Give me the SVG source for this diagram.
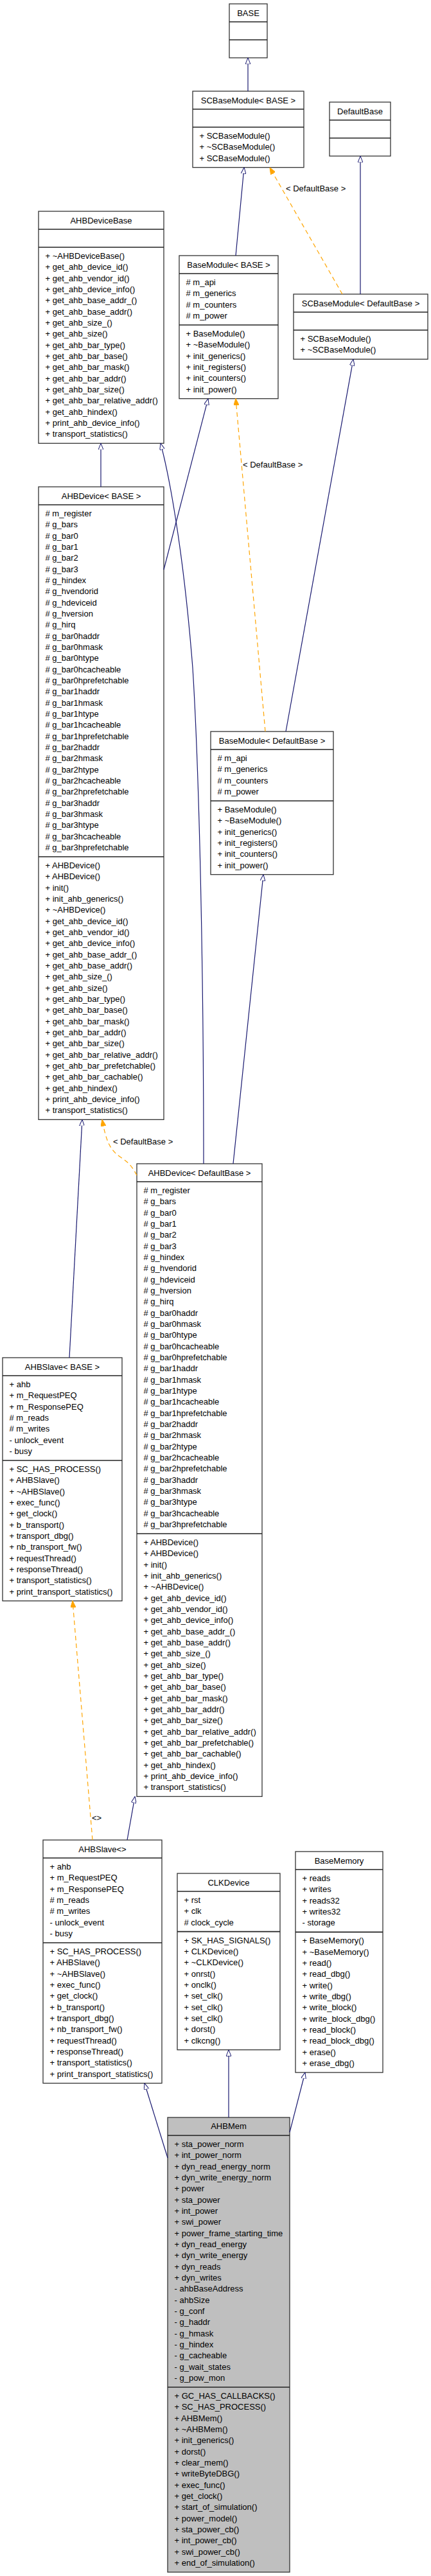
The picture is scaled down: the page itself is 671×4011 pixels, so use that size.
<svg xmlns="http://www.w3.org/2000/svg" width="671" height="4011" viewBox="0 0 671 4011">
<style>
.box{fill:#fff;stroke:#333;stroke-width:1.3}
.mem{fill:#bfbfbf;stroke:#333;stroke-width:1.3}
.sep{stroke:#222;stroke-width:1.7}
.t{font-family:"Liberation Sans",Arial,sans-serif;font-size:13px;fill:#000}
.ti{text-anchor:middle}
.inh{fill:none;stroke:#191970;stroke-width:1.2;marker-end:url(#hollow)}
.tpl{fill:none;stroke:#ffa500;stroke-width:1.2;stroke-dasharray:7,5;marker-end:url(#filled)}
</style>
<defs>
<marker id="hollow" viewBox="0 0 10 8" refX="10" refY="4" markerWidth="10" markerHeight="8" markerUnits="userSpaceOnUse" orient="auto">
<path d="M0,0 L10,4 L0,8 Z" fill="#fff" stroke="#191970" stroke-width="1"/>
</marker>
<marker id="filled" viewBox="0 0 10 8" refX="10" refY="4" markerWidth="11" markerHeight="8" markerUnits="userSpaceOnUse" orient="auto">
<path d="M0,0 L10,4 L0,8 Z" fill="#ffa500" stroke="#ffa500" stroke-width="1"/>
</marker>
</defs>
<rect width="671" height="4011" fill="#fff"/>

<g id="BASE">
<rect class="box" x="357" y="6" width="59" height="84"/>
<line class="sep" x1="357" y1="34" x2="416" y2="34"/>
<line class="sep" x1="357" y1="62" x2="416" y2="62"/>
<text class="t ti" x="386.5" y="25">BASE</text>
</g>

<g id="SCBaseModule_BASE">
<rect class="box" x="300" y="142" width="173" height="118.7"/>
<line class="sep" x1="300" y1="170" x2="473" y2="170"/>
<line class="sep" x1="300" y1="198" x2="473" y2="198"/>
<text class="t ti" x="386.5" y="161">SCBaseModule&lt; BASE &gt;</text>
<text class="t"><tspan x="310.5" y="216">+ SCBaseModule()</tspan><tspan x="310.5" dy="17.333">+ ~SCBaseModule()</tspan><tspan x="310.5" dy="17.333">+ SCBaseModule()</tspan></text>
</g>

<g id="DefaultBase">
<rect class="box" x="513" y="159" width="95" height="84"/>
<line class="sep" x1="513" y1="187" x2="608" y2="187"/>
<line class="sep" x1="513" y1="215" x2="608" y2="215"/>
<text class="t ti" x="560.5" y="178">DefaultBase</text>
</g>

<g id="AHBDeviceBase">
<rect class="box" x="60" y="329" width="195" height="361.3"/>
<line class="sep" x1="60" y1="357" x2="255" y2="357"/>
<line class="sep" x1="60" y1="385" x2="255" y2="385"/>
<text class="t ti" x="157.5" y="348">AHBDeviceBase</text>
<text class="t"><tspan x="70.5" y="403">+ ~AHBDeviceBase()</tspan><tspan x="70.5" dy="17.333">+ get_ahb_device_id()</tspan><tspan x="70.5" dy="17.333">+ get_ahb_vendor_id()</tspan><tspan x="70.5" dy="17.333">+ get_ahb_device_info()</tspan><tspan x="70.5" dy="17.333">+ get_ahb_base_addr_()</tspan><tspan x="70.5" dy="17.333">+ get_ahb_base_addr()</tspan><tspan x="70.5" dy="17.333">+ get_ahb_size_()</tspan><tspan x="70.5" dy="17.333">+ get_ahb_size()</tspan><tspan x="70.5" dy="17.333">+ get_ahb_bar_type()</tspan><tspan x="70.5" dy="17.333">+ get_ahb_bar_base()</tspan><tspan x="70.5" dy="17.333">+ get_ahb_bar_mask()</tspan><tspan x="70.5" dy="17.333">+ get_ahb_bar_addr()</tspan><tspan x="70.5" dy="17.333">+ get_ahb_bar_size()</tspan><tspan x="70.5" dy="17.333">+ get_ahb_bar_relative_addr()</tspan><tspan x="70.5" dy="17.333">+ get_ahb_hindex()</tspan><tspan x="70.5" dy="17.333">+ print_ahb_device_info()</tspan><tspan x="70.5" dy="17.333">+ transport_statistics()</tspan></text>
</g>

<g id="BaseModule_BASE">
<rect class="box" x="279" y="398" width="154" height="222.7"/>
<line class="sep" x1="279" y1="426" x2="433" y2="426"/>
<line class="sep" x1="279" y1="506" x2="433" y2="506"/>
<text class="t ti" x="356" y="417">BaseModule&lt; BASE &gt;</text>
<text class="t"><tspan x="289.5" y="444"># m_api</tspan><tspan x="289.5" dy="17.333"># m_generics</tspan><tspan x="289.5" dy="17.333"># m_counters</tspan><tspan x="289.5" dy="17.333"># m_power</tspan></text>
<text class="t"><tspan x="289.5" y="524">+ BaseModule()</tspan><tspan x="289.5" dy="17.333">+ ~BaseModule()</tspan><tspan x="289.5" dy="17.333">+ init_generics()</tspan><tspan x="289.5" dy="17.333">+ init_registers()</tspan><tspan x="289.5" dy="17.333">+ init_counters()</tspan><tspan x="289.5" dy="17.333">+ init_power()</tspan></text>
</g>

<g id="SCBaseModule_DefaultBase">
<rect class="box" x="457" y="458" width="209" height="101.3"/>
<line class="sep" x1="457" y1="486" x2="666" y2="486"/>
<line class="sep" x1="457" y1="514" x2="666" y2="514"/>
<text class="t ti" x="561.5" y="477">SCBaseModule&lt; DefaultBase &gt;</text>
<text class="t"><tspan x="467.5" y="532">+ SCBaseModule()</tspan><tspan x="467.5" dy="17.333">+ ~SCBaseModule()</tspan></text>
</g>

<g id="AHBDevice_BASE">
<rect class="box" x="60" y="758" width="195" height="985.3"/>
<line class="sep" x1="60" y1="786" x2="255" y2="786"/>
<line class="sep" x1="60" y1="1334" x2="255" y2="1334"/>
<text class="t ti" x="157.5" y="777">AHBDevice&lt; BASE &gt;</text>
<text class="t"><tspan x="70.5" y="804"># m_register</tspan><tspan x="70.5" dy="17.333"># g_bars</tspan><tspan x="70.5" dy="17.333"># g_bar0</tspan><tspan x="70.5" dy="17.333"># g_bar1</tspan><tspan x="70.5" dy="17.333"># g_bar2</tspan><tspan x="70.5" dy="17.333"># g_bar3</tspan><tspan x="70.5" dy="17.333"># g_hindex</tspan><tspan x="70.5" dy="17.333"># g_hvendorid</tspan><tspan x="70.5" dy="17.333"># g_hdeviceid</tspan><tspan x="70.5" dy="17.333"># g_hversion</tspan><tspan x="70.5" dy="17.333"># g_hirq</tspan><tspan x="70.5" dy="17.333"># g_bar0haddr</tspan><tspan x="70.5" dy="17.333"># g_bar0hmask</tspan><tspan x="70.5" dy="17.333"># g_bar0htype</tspan><tspan x="70.5" dy="17.333"># g_bar0hcacheable</tspan><tspan x="70.5" dy="17.333"># g_bar0hprefetchable</tspan><tspan x="70.5" dy="17.333"># g_bar1haddr</tspan><tspan x="70.5" dy="17.333"># g_bar1hmask</tspan><tspan x="70.5" dy="17.333"># g_bar1htype</tspan><tspan x="70.5" dy="17.333"># g_bar1hcacheable</tspan><tspan x="70.5" dy="17.333"># g_bar1hprefetchable</tspan><tspan x="70.5" dy="17.333"># g_bar2haddr</tspan><tspan x="70.5" dy="17.333"># g_bar2hmask</tspan><tspan x="70.5" dy="17.333"># g_bar2htype</tspan><tspan x="70.5" dy="17.333"># g_bar2hcacheable</tspan><tspan x="70.5" dy="17.333"># g_bar2hprefetchable</tspan><tspan x="70.5" dy="17.333"># g_bar3haddr</tspan><tspan x="70.5" dy="17.333"># g_bar3hmask</tspan><tspan x="70.5" dy="17.333"># g_bar3htype</tspan><tspan x="70.5" dy="17.333"># g_bar3hcacheable</tspan><tspan x="70.5" dy="17.333"># g_bar3hprefetchable</tspan></text>
<text class="t"><tspan x="70.5" y="1352">+ AHBDevice()</tspan><tspan x="70.5" dy="17.333">+ AHBDevice()</tspan><tspan x="70.5" dy="17.333">+ init()</tspan><tspan x="70.5" dy="17.333">+ init_ahb_generics()</tspan><tspan x="70.5" dy="17.333">+ ~AHBDevice()</tspan><tspan x="70.5" dy="17.333">+ get_ahb_device_id()</tspan><tspan x="70.5" dy="17.333">+ get_ahb_vendor_id()</tspan><tspan x="70.5" dy="17.333">+ get_ahb_device_info()</tspan><tspan x="70.5" dy="17.333">+ get_ahb_base_addr_()</tspan><tspan x="70.5" dy="17.333">+ get_ahb_base_addr()</tspan><tspan x="70.5" dy="17.333">+ get_ahb_size_()</tspan><tspan x="70.5" dy="17.333">+ get_ahb_size()</tspan><tspan x="70.5" dy="17.333">+ get_ahb_bar_type()</tspan><tspan x="70.5" dy="17.333">+ get_ahb_bar_base()</tspan><tspan x="70.5" dy="17.333">+ get_ahb_bar_mask()</tspan><tspan x="70.5" dy="17.333">+ get_ahb_bar_addr()</tspan><tspan x="70.5" dy="17.333">+ get_ahb_bar_size()</tspan><tspan x="70.5" dy="17.333">+ get_ahb_bar_relative_addr()</tspan><tspan x="70.5" dy="17.333">+ get_ahb_bar_prefetchable()</tspan><tspan x="70.5" dy="17.333">+ get_ahb_bar_cachable()</tspan><tspan x="70.5" dy="17.333">+ get_ahb_hindex()</tspan><tspan x="70.5" dy="17.333">+ print_ahb_device_info()</tspan><tspan x="70.5" dy="17.333">+ transport_statistics()</tspan></text>
</g>

<g id="BaseModule_DefaultBase">
<rect class="box" x="328" y="1139" width="191" height="222.7"/>
<line class="sep" x1="328" y1="1167" x2="519" y2="1167"/>
<line class="sep" x1="328" y1="1247" x2="519" y2="1247"/>
<text class="t ti" x="423.5" y="1158">BaseModule&lt; DefaultBase &gt;</text>
<text class="t"><tspan x="338.5" y="1185"># m_api</tspan><tspan x="338.5" dy="17.333"># m_generics</tspan><tspan x="338.5" dy="17.333"># m_counters</tspan><tspan x="338.5" dy="17.333"># m_power</tspan></text>
<text class="t"><tspan x="338.5" y="1265">+ BaseModule()</tspan><tspan x="338.5" dy="17.333">+ ~BaseModule()</tspan><tspan x="338.5" dy="17.333">+ init_generics()</tspan><tspan x="338.5" dy="17.333">+ init_registers()</tspan><tspan x="338.5" dy="17.333">+ init_counters()</tspan><tspan x="338.5" dy="17.333">+ init_power()</tspan></text>
</g>

<g id="AHBDevice_DefaultBase">
<rect class="box" x="213" y="1812" width="195" height="985.3"/>
<line class="sep" x1="213" y1="1840" x2="408" y2="1840"/>
<line class="sep" x1="213" y1="2388" x2="408" y2="2388"/>
<text class="t ti" x="310.5" y="1831">AHBDevice&lt; DefaultBase &gt;</text>
<text class="t"><tspan x="223.5" y="1858"># m_register</tspan><tspan x="223.5" dy="17.333"># g_bars</tspan><tspan x="223.5" dy="17.333"># g_bar0</tspan><tspan x="223.5" dy="17.333"># g_bar1</tspan><tspan x="223.5" dy="17.333"># g_bar2</tspan><tspan x="223.5" dy="17.333"># g_bar3</tspan><tspan x="223.5" dy="17.333"># g_hindex</tspan><tspan x="223.5" dy="17.333"># g_hvendorid</tspan><tspan x="223.5" dy="17.333"># g_hdeviceid</tspan><tspan x="223.5" dy="17.333"># g_hversion</tspan><tspan x="223.5" dy="17.333"># g_hirq</tspan><tspan x="223.5" dy="17.333"># g_bar0haddr</tspan><tspan x="223.5" dy="17.333"># g_bar0hmask</tspan><tspan x="223.5" dy="17.333"># g_bar0htype</tspan><tspan x="223.5" dy="17.333"># g_bar0hcacheable</tspan><tspan x="223.5" dy="17.333"># g_bar0hprefetchable</tspan><tspan x="223.5" dy="17.333"># g_bar1haddr</tspan><tspan x="223.5" dy="17.333"># g_bar1hmask</tspan><tspan x="223.5" dy="17.333"># g_bar1htype</tspan><tspan x="223.5" dy="17.333"># g_bar1hcacheable</tspan><tspan x="223.5" dy="17.333"># g_bar1hprefetchable</tspan><tspan x="223.5" dy="17.333"># g_bar2haddr</tspan><tspan x="223.5" dy="17.333"># g_bar2hmask</tspan><tspan x="223.5" dy="17.333"># g_bar2htype</tspan><tspan x="223.5" dy="17.333"># g_bar2hcacheable</tspan><tspan x="223.5" dy="17.333"># g_bar2hprefetchable</tspan><tspan x="223.5" dy="17.333"># g_bar3haddr</tspan><tspan x="223.5" dy="17.333"># g_bar3hmask</tspan><tspan x="223.5" dy="17.333"># g_bar3htype</tspan><tspan x="223.5" dy="17.333"># g_bar3hcacheable</tspan><tspan x="223.5" dy="17.333"># g_bar3hprefetchable</tspan></text>
<text class="t"><tspan x="223.5" y="2406">+ AHBDevice()</tspan><tspan x="223.5" dy="17.333">+ AHBDevice()</tspan><tspan x="223.5" dy="17.333">+ init()</tspan><tspan x="223.5" dy="17.333">+ init_ahb_generics()</tspan><tspan x="223.5" dy="17.333">+ ~AHBDevice()</tspan><tspan x="223.5" dy="17.333">+ get_ahb_device_id()</tspan><tspan x="223.5" dy="17.333">+ get_ahb_vendor_id()</tspan><tspan x="223.5" dy="17.333">+ get_ahb_device_info()</tspan><tspan x="223.5" dy="17.333">+ get_ahb_base_addr_()</tspan><tspan x="223.5" dy="17.333">+ get_ahb_base_addr()</tspan><tspan x="223.5" dy="17.333">+ get_ahb_size_()</tspan><tspan x="223.5" dy="17.333">+ get_ahb_size()</tspan><tspan x="223.5" dy="17.333">+ get_ahb_bar_type()</tspan><tspan x="223.5" dy="17.333">+ get_ahb_bar_base()</tspan><tspan x="223.5" dy="17.333">+ get_ahb_bar_mask()</tspan><tspan x="223.5" dy="17.333">+ get_ahb_bar_addr()</tspan><tspan x="223.5" dy="17.333">+ get_ahb_bar_size()</tspan><tspan x="223.5" dy="17.333">+ get_ahb_bar_relative_addr()</tspan><tspan x="223.5" dy="17.333">+ get_ahb_bar_prefetchable()</tspan><tspan x="223.5" dy="17.333">+ get_ahb_bar_cachable()</tspan><tspan x="223.5" dy="17.333">+ get_ahb_hindex()</tspan><tspan x="223.5" dy="17.333">+ print_ahb_device_info()</tspan><tspan x="223.5" dy="17.333">+ transport_statistics()</tspan></text>
</g>

<g id="AHBSlave_BASE">
<rect class="box" x="4" y="2114" width="186" height="378.7"/>
<line class="sep" x1="4" y1="2142" x2="190" y2="2142"/>
<line class="sep" x1="4" y1="2274" x2="190" y2="2274"/>
<text class="t ti" x="97" y="2133">AHBSlave&lt; BASE &gt;</text>
<text class="t"><tspan x="14.5" y="2160">+ ahb</tspan><tspan x="14.5" dy="17.333">+ m_RequestPEQ</tspan><tspan x="14.5" dy="17.333">+ m_ResponsePEQ</tspan><tspan x="14.5" dy="17.333"># m_reads</tspan><tspan x="14.5" dy="17.333"># m_writes</tspan><tspan x="14.5" dy="17.333">- unlock_event</tspan><tspan x="14.5" dy="17.333">- busy</tspan></text>
<text class="t"><tspan x="14.5" y="2292">+ SC_HAS_PROCESS()</tspan><tspan x="14.5" dy="17.333">+ AHBSlave()</tspan><tspan x="14.5" dy="17.333">+ ~AHBSlave()</tspan><tspan x="14.5" dy="17.333">+ exec_func()</tspan><tspan x="14.5" dy="17.333">+ get_clock()</tspan><tspan x="14.5" dy="17.333">+ b_transport()</tspan><tspan x="14.5" dy="17.333">+ transport_dbg()</tspan><tspan x="14.5" dy="17.333">+ nb_transport_fw()</tspan><tspan x="14.5" dy="17.333">+ requestThread()</tspan><tspan x="14.5" dy="17.333">+ responseThread()</tspan><tspan x="14.5" dy="17.333">+ transport_statistics()</tspan><tspan x="14.5" dy="17.333">+ print_transport_statistics()</tspan></text>
</g>

<g id="AHBSlave_default">
<rect class="box" x="67" y="2865" width="185" height="378.7"/>
<line class="sep" x1="67" y1="2893" x2="252" y2="2893"/>
<line class="sep" x1="67" y1="3025" x2="252" y2="3025"/>
<text class="t ti" x="159.5" y="2884">AHBSlave&lt;&gt;</text>
<text class="t"><tspan x="77.5" y="2911">+ ahb</tspan><tspan x="77.5" dy="17.333">+ m_RequestPEQ</tspan><tspan x="77.5" dy="17.333">+ m_ResponsePEQ</tspan><tspan x="77.5" dy="17.333"># m_reads</tspan><tspan x="77.5" dy="17.333"># m_writes</tspan><tspan x="77.5" dy="17.333">- unlock_event</tspan><tspan x="77.5" dy="17.333">- busy</tspan></text>
<text class="t"><tspan x="77.5" y="3043">+ SC_HAS_PROCESS()</tspan><tspan x="77.5" dy="17.333">+ AHBSlave()</tspan><tspan x="77.5" dy="17.333">+ ~AHBSlave()</tspan><tspan x="77.5" dy="17.333">+ exec_func()</tspan><tspan x="77.5" dy="17.333">+ get_clock()</tspan><tspan x="77.5" dy="17.333">+ b_transport()</tspan><tspan x="77.5" dy="17.333">+ transport_dbg()</tspan><tspan x="77.5" dy="17.333">+ nb_transport_fw()</tspan><tspan x="77.5" dy="17.333">+ requestThread()</tspan><tspan x="77.5" dy="17.333">+ responseThread()</tspan><tspan x="77.5" dy="17.333">+ transport_statistics()</tspan><tspan x="77.5" dy="17.333">+ print_transport_statistics()</tspan></text>
</g>

<g id="CLKDevice">
<rect class="box" x="276" y="2917" width="160" height="274.7"/>
<line class="sep" x1="276" y1="2945" x2="436" y2="2945"/>
<line class="sep" x1="276" y1="3007.7" x2="436" y2="3007.7"/>
<text class="t ti" x="356" y="2936">CLKDevice</text>
<text class="t"><tspan x="286.5" y="2963">+ rst</tspan><tspan x="286.5" dy="17.333">+ clk</tspan><tspan x="286.5" dy="17.333"># clock_cycle</tspan></text>
<text class="t"><tspan x="286.5" y="3025.7">+ SK_HAS_SIGNALS()</tspan><tspan x="286.5" dy="17.333">+ CLKDevice()</tspan><tspan x="286.5" dy="17.333">+ ~CLKDevice()</tspan><tspan x="286.5" dy="17.333">+ onrst()</tspan><tspan x="286.5" dy="17.333">+ onclk()</tspan><tspan x="286.5" dy="17.333">+ set_clk()</tspan><tspan x="286.5" dy="17.333">+ set_clk()</tspan><tspan x="286.5" dy="17.333">+ set_clk()</tspan><tspan x="286.5" dy="17.333">+ dorst()</tspan><tspan x="286.5" dy="17.333">+ clkcng()</tspan></text>
</g>

<g id="BaseMemory">
<rect class="box" x="460" y="2883" width="136" height="344"/>
<line class="sep" x1="460" y1="2911" x2="596" y2="2911"/>
<line class="sep" x1="460" y1="3008.3" x2="596" y2="3008.3"/>
<text class="t ti" x="528" y="2902">BaseMemory</text>
<text class="t"><tspan x="470.5" y="2929">+ reads</tspan><tspan x="470.5" dy="17.333">+ writes</tspan><tspan x="470.5" dy="17.333">+ reads32</tspan><tspan x="470.5" dy="17.333">+ writes32</tspan><tspan x="470.5" dy="17.333">- storage</tspan></text>
<text class="t"><tspan x="470.5" y="3026.3">+ BaseMemory()</tspan><tspan x="470.5" dy="17.333">+ ~BaseMemory()</tspan><tspan x="470.5" dy="17.333">+ read()</tspan><tspan x="470.5" dy="17.333">+ read_dbg()</tspan><tspan x="470.5" dy="17.333">+ write()</tspan><tspan x="470.5" dy="17.333">+ write_dbg()</tspan><tspan x="470.5" dy="17.333">+ write_block()</tspan><tspan x="470.5" dy="17.333">+ write_block_dbg()</tspan><tspan x="470.5" dy="17.333">+ read_block()</tspan><tspan x="470.5" dy="17.333">+ read_block_dbg()</tspan><tspan x="470.5" dy="17.333">+ erase()</tspan><tspan x="470.5" dy="17.333">+ erase_dbg()</tspan></text>
</g>

<g id="AHBMem">
<rect class="mem" x="261" y="3297" width="190" height="708"/>
<line class="sep" x1="261" y1="3325" x2="451" y2="3325"/>
<line class="sep" x1="261" y1="3717" x2="451" y2="3717"/>
<text class="t ti" x="356" y="3315">AHBMem</text>
<text class="t"><tspan x="271.5" y="3343">+ sta_power_norm</tspan><tspan x="271.5" dy="17.333">+ int_power_norm</tspan><tspan x="271.5" dy="17.333">+ dyn_read_energy_norm</tspan><tspan x="271.5" dy="17.333">+ dyn_write_energy_norm</tspan><tspan x="271.5" dy="17.333">+ power</tspan><tspan x="271.5" dy="17.333">+ sta_power</tspan><tspan x="271.5" dy="17.333">+ int_power</tspan><tspan x="271.5" dy="17.333">+ swi_power</tspan><tspan x="271.5" dy="17.333">+ power_frame_starting_time</tspan><tspan x="271.5" dy="17.333">+ dyn_read_energy</tspan><tspan x="271.5" dy="17.333">+ dyn_write_energy</tspan><tspan x="271.5" dy="17.333">+ dyn_reads</tspan><tspan x="271.5" dy="17.333">+ dyn_writes</tspan><tspan x="271.5" dy="17.333">- ahbBaseAddress</tspan><tspan x="271.5" dy="17.333">- ahbSize</tspan><tspan x="271.5" dy="17.333">- g_conf</tspan><tspan x="271.5" dy="17.333">- g_haddr</tspan><tspan x="271.5" dy="17.333">- g_hmask</tspan><tspan x="271.5" dy="17.333">- g_hindex</tspan><tspan x="271.5" dy="17.333">- g_cacheable</tspan><tspan x="271.5" dy="17.333">- g_wait_states</tspan><tspan x="271.5" dy="17.333">- g_pow_mon</tspan></text>
<text class="t"><tspan x="271.5" y="3735">+ GC_HAS_CALLBACKS()</tspan><tspan x="271.5" dy="17.333">+ SC_HAS_PROCESS()</tspan><tspan x="271.5" dy="17.333">+ AHBMem()</tspan><tspan x="271.5" dy="17.333">+ ~AHBMem()</tspan><tspan x="271.5" dy="17.333">+ init_generics()</tspan><tspan x="271.5" dy="17.333">+ dorst()</tspan><tspan x="271.5" dy="17.333">+ clear_mem()</tspan><tspan x="271.5" dy="17.333">+ writeByteDBG()</tspan><tspan x="271.5" dy="17.333">+ exec_func()</tspan><tspan x="271.5" dy="17.333">+ get_clock()</tspan><tspan x="271.5" dy="17.333">+ start_of_simulation()</tspan><tspan x="271.5" dy="17.333">+ power_model()</tspan><tspan x="271.5" dy="17.333">+ sta_power_cb()</tspan><tspan x="271.5" dy="17.333">+ int_power_cb()</tspan><tspan x="271.5" dy="17.333">+ swi_power_cb()</tspan><tspan x="271.5" dy="17.333">+ end_of_simulation()</tspan></text>
</g>

<g id="connectors">
<path class="inh" d="M386,142 L386,90"/>
<path class="inh" d="M367,398 L380,260.7"/>
<path class="tpl" d="M533,458 L420,261"/>
<text class="t" x="445" y="298">&lt; DefaultBase &gt;</text>
<path class="inh" d="M561,458 L561,243"/>
<path class="inh" d="M157,758 L157,690.3"/>
<path class="inh" d="M317,1812 C317,1500 310,1200 300,1040 C285,850 262,735 250,690.3"/>
<path class="inh" d="M255,887 L324,620.7"/>
<path class="tpl" d="M413,1139 L367,620.7"/>
<text class="t" x="378" y="728">&lt; DefaultBase &gt;</text>
<path class="inh" d="M445,1139 L550,559.3"/>
<path class="inh" d="M363,1812 L410,1361.7"/>
<path class="inh" d="M108,2114 L128,1743.3"/>
<path class="tpl" d="M213,1830 C205,1815 200,1810 188,1802 C170,1790 165,1775 159,1743.3"/>
<text class="t" x="176" y="1782">&lt; DefaultBase &gt;</text>
<path class="tpl" d="M144,2865 L113,2492.7"/>
<text class="t" x="143" y="2835">&lt;&gt;</text>
<path class="inh" d="M198,2865 L210,2797.3"/>
<path class="inh" d="M261,3360 L225,3243.7"/>
<path class="inh" d="M356,3297 L356,3191.7"/>
<path class="inh" d="M451,3320 L475,3227"/>
</g>
</svg>
